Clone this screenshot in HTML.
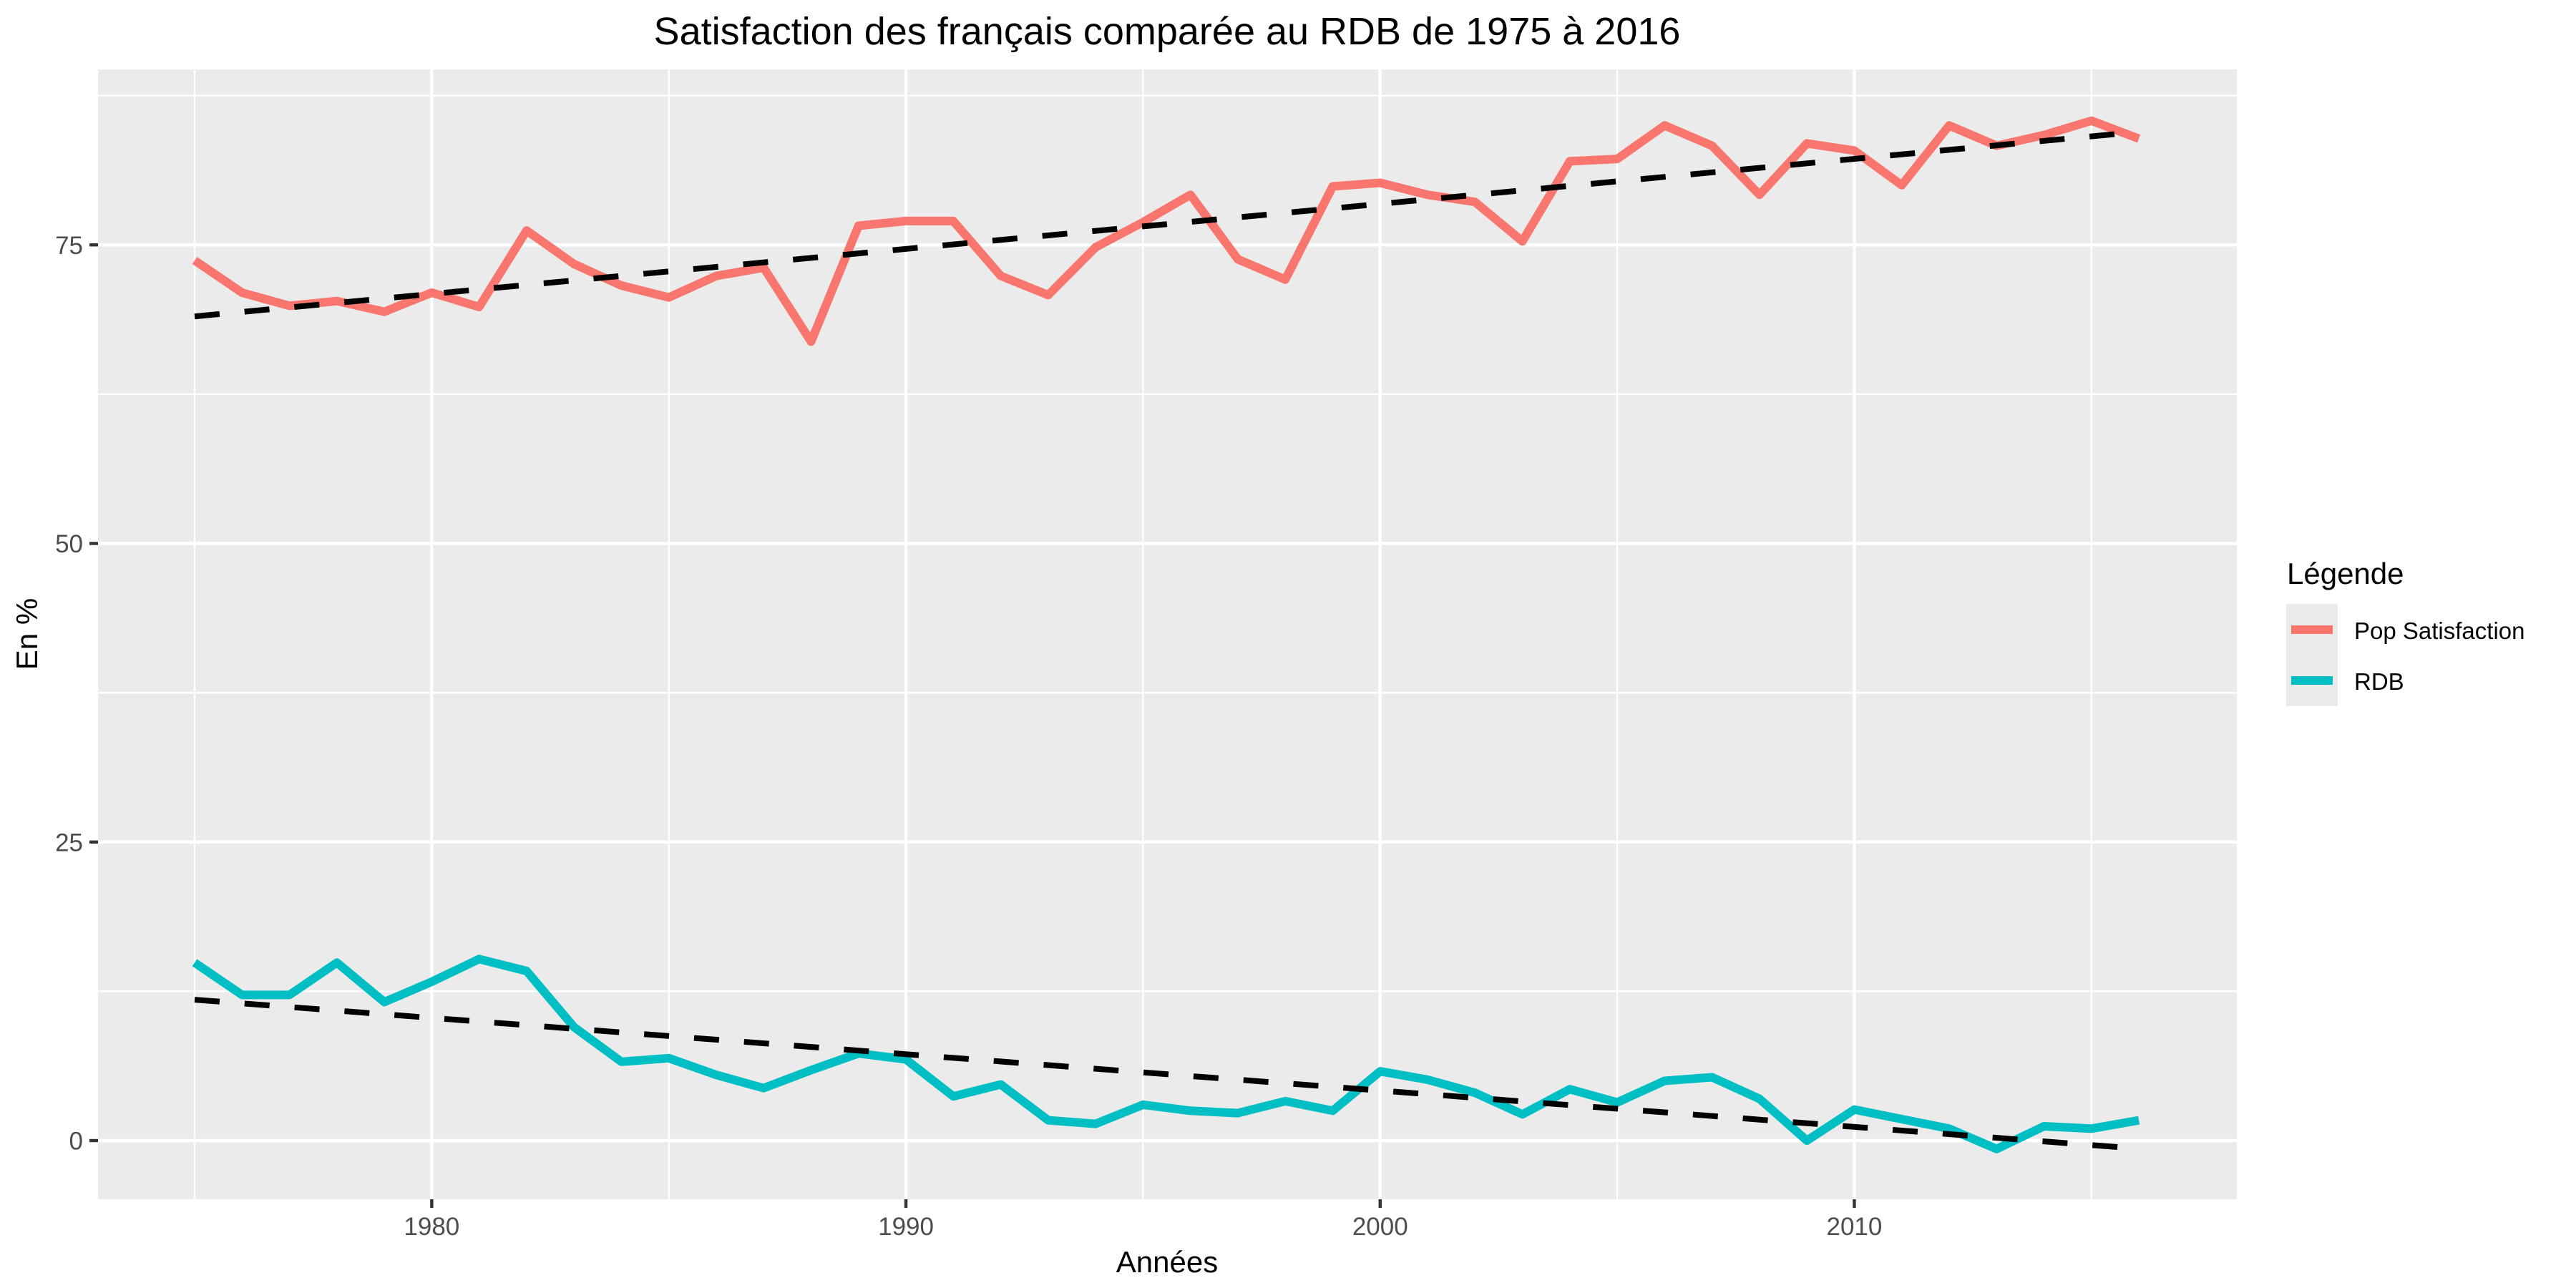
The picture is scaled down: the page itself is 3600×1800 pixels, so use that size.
<!DOCTYPE html>
<html><head><meta charset="utf-8"><style>
html,body{margin:0;padding:0;background:#fff;}
svg{display:block;font-family:"Liberation Sans",Arial,sans-serif;}
</style></head><body>
<svg id="chart" width="3600" height="1800" viewBox="0 0 3600 1800">
<rect x="0" y="0" width="3600" height="1800" fill="#fff"/>
<text x="1631" y="62" text-anchor="middle" font-size="54" fill="#000">Satisfaction des français comparée au RDB de 1975 à 2016</text>
<rect x="137" y="97" width="2989" height="1579" fill="#EBEBEB"/>
<g id="grid"></g>
<g id="axes"></g>
<g id="series"></g>
<text x="0" y="0" transform="translate(52,886) rotate(-90)" text-anchor="middle" font-size="42" fill="#000">En %</text>
<text x="1631" y="1778" text-anchor="middle" font-size="42" fill="#000">Années</text>
<g>
<text x="3196" y="816" font-size="42" fill="#000">Légende</text>
<rect x="3195" y="844" width="72" height="143" fill="#EBEBEB"/>
<line x1="3202" y1="880" x2="3260" y2="880" stroke="#F8766D" stroke-width="12"/>
<line x1="3202" y1="951" x2="3260" y2="951" stroke="#00BFC4" stroke-width="12"/>
<text x="3290" y="893" font-size="33" fill="#000">Pop Satisfaction</text>
<text x="3290" y="964" font-size="33" fill="#000">RDB</text>
</g>
</svg>
<script>
const years = [1975,1976,1977,1978,1979,1980,1981,1982,1983,1984,1985,1986,1987,1988,1989,1990,1991,1992,1993,1994,1995,1996,1997,1998,1999,2000,2001,2002,2003,2004,2005,2006,2007,2008,2009,2010,2011,2012,2013,2014,2015,2016];
const popSatisfaction = [73.7,71.0,69.9,70.3,69.4,71.0,69.8,76.2,73.4,71.6,70.6,72.4,73.1,66.9,76.6,77.0,77.0,72.4,70.8,74.8,76.9,79.2,73.8,72.1,79.9,80.2,79.2,78.6,75.3,82.0,82.2,85.0,83.3,79.2,83.5,82.9,80.0,85.0,83.3,84.2,85.4,83.9];
const rdb = [14.9,12.2,12.2,14.9,11.6,13.3,15.2,14.2,9.5,6.6,6.9,5.5,4.4,5.9,7.3,6.8,3.7,4.7,1.7,1.4,3.0,2.5,2.3,3.3,2.5,5.8,5.1,4.0,2.2,4.3,3.2,5.0,5.3,3.5,0.0,2.6,1.8,1.0,-0.7,1.2,1.0,1.7];
const xTicks = [1980,1990,2000,2010];
const xMinor = [1975,1985,1995,2005,2015];
const yTicks = [0,25,50,75];
const yMinor = [12.5,37.5,62.5,87.5];

const NS = "http://www.w3.org/2000/svg";
const PL = 137, PR = 3126, PT = 97, PB = 1676;
function xs(v){ return 272 + (v - 1975) * 66.27; }
function ys(v){ return 1594 - v * 16.69; }
function mk(tag, attrs, parent){
  const e = document.createElementNS(NS, tag);
  for (const k in attrs) e.setAttribute(k, attrs[k]);
  parent.appendChild(e);
  return e;
}
const grid = document.getElementById('grid');
const axes = document.getElementById('axes');
const series = document.getElementById('series');

yMinor.forEach(v => {
  const l = mk('line', {x1:PL, x2:PR, y1:ys(v), y2:ys(v), stroke:'#fff', 'stroke-width':2.2}, grid);
  
  
});
xMinor.forEach(v => {
  const l = mk('line', {x1:xs(v), x2:xs(v), y1:PT, y2:PB, stroke:'#fff', 'stroke-width':2.2}, grid);
  
  
});
yTicks.forEach(v => {
  const l = mk('line', {x1:PL, x2:PR, y1:ys(v), y2:ys(v), stroke:'#fff', 'stroke-width':4.4}, grid);
  
  
  const t = mk('line', {x1:125, x2:PL, y1:ys(v), y2:ys(v), stroke:'#333', 'stroke-width':4.4}, axes);
  
  
  const tx = mk('text', {x:116, y:ys(v)+12.5, 'text-anchor':'end', 'font-size':35, fill:'#4D4D4D'}, axes);
  tx.textContent = v;
  
  
});
xTicks.forEach(v => {
  const l = mk('line', {x1:xs(v), x2:xs(v), y1:PT, y2:PB, stroke:'#fff', 'stroke-width':4.4}, grid);
  
  
  const t = mk('line', {x1:xs(v), x2:xs(v), y1:PB, y2:PB+12, stroke:'#333', 'stroke-width':4.4}, axes);
  
  
  const tx = mk('text', {x:xs(v), y:1726, 'text-anchor':'middle', 'font-size':35, fill:'#4D4D4D'}, axes);
  tx.textContent = v;
  
  
});

function pathFor(vals){
  return vals.map((v,i) => (i ? 'L' : 'M') + xs(years[i]).toFixed(1) + ' ' + ys(v).toFixed(1)).join(' ');
}
function fit(vals){
  const n = vals.length;
  const mx = years.reduce((a,b)=>a+b,0)/n, my = vals.reduce((a,b)=>a+b,0)/n;
  let sxy = 0, sxx = 0;
  for (let i=0;i<n;i++){ sxy += (years[i]-mx)*(vals[i]-my); sxx += (years[i]-mx)**2; }
  const b = sxy/sxx, a = my - b*mx;
  return [a + b*years[0], a + b*years[n-1]];
}
const p1 = mk('path', {d:pathFor(popSatisfaction), fill:'none', stroke:'#F8766D', 'stroke-width':12, 'stroke-linejoin':'round'}, series);


const p2 = mk('path', {d:pathFor(rdb), fill:'none', stroke:'#00BFC4', 'stroke-width':12, 'stroke-linejoin':'round'}, series);


const f1 = fit(popSatisfaction);
const t1 = mk('line', {x1:xs(years[0]), y1:ys(f1[0]), x2:xs(years[years.length-1]), y2:ys(f1[1]), stroke:'#000', 'stroke-width':8, 'stroke-dasharray':'35 35'}, series);


const f2 = fit(rdb);
const t2 = mk('line', {x1:xs(years[0]), y1:ys(f2[0]), x2:xs(years[years.length-1]), y2:ys(f2[1]), stroke:'#000', 'stroke-width':8, 'stroke-dasharray':'35 35'}, series);


</script>
</body></html>
